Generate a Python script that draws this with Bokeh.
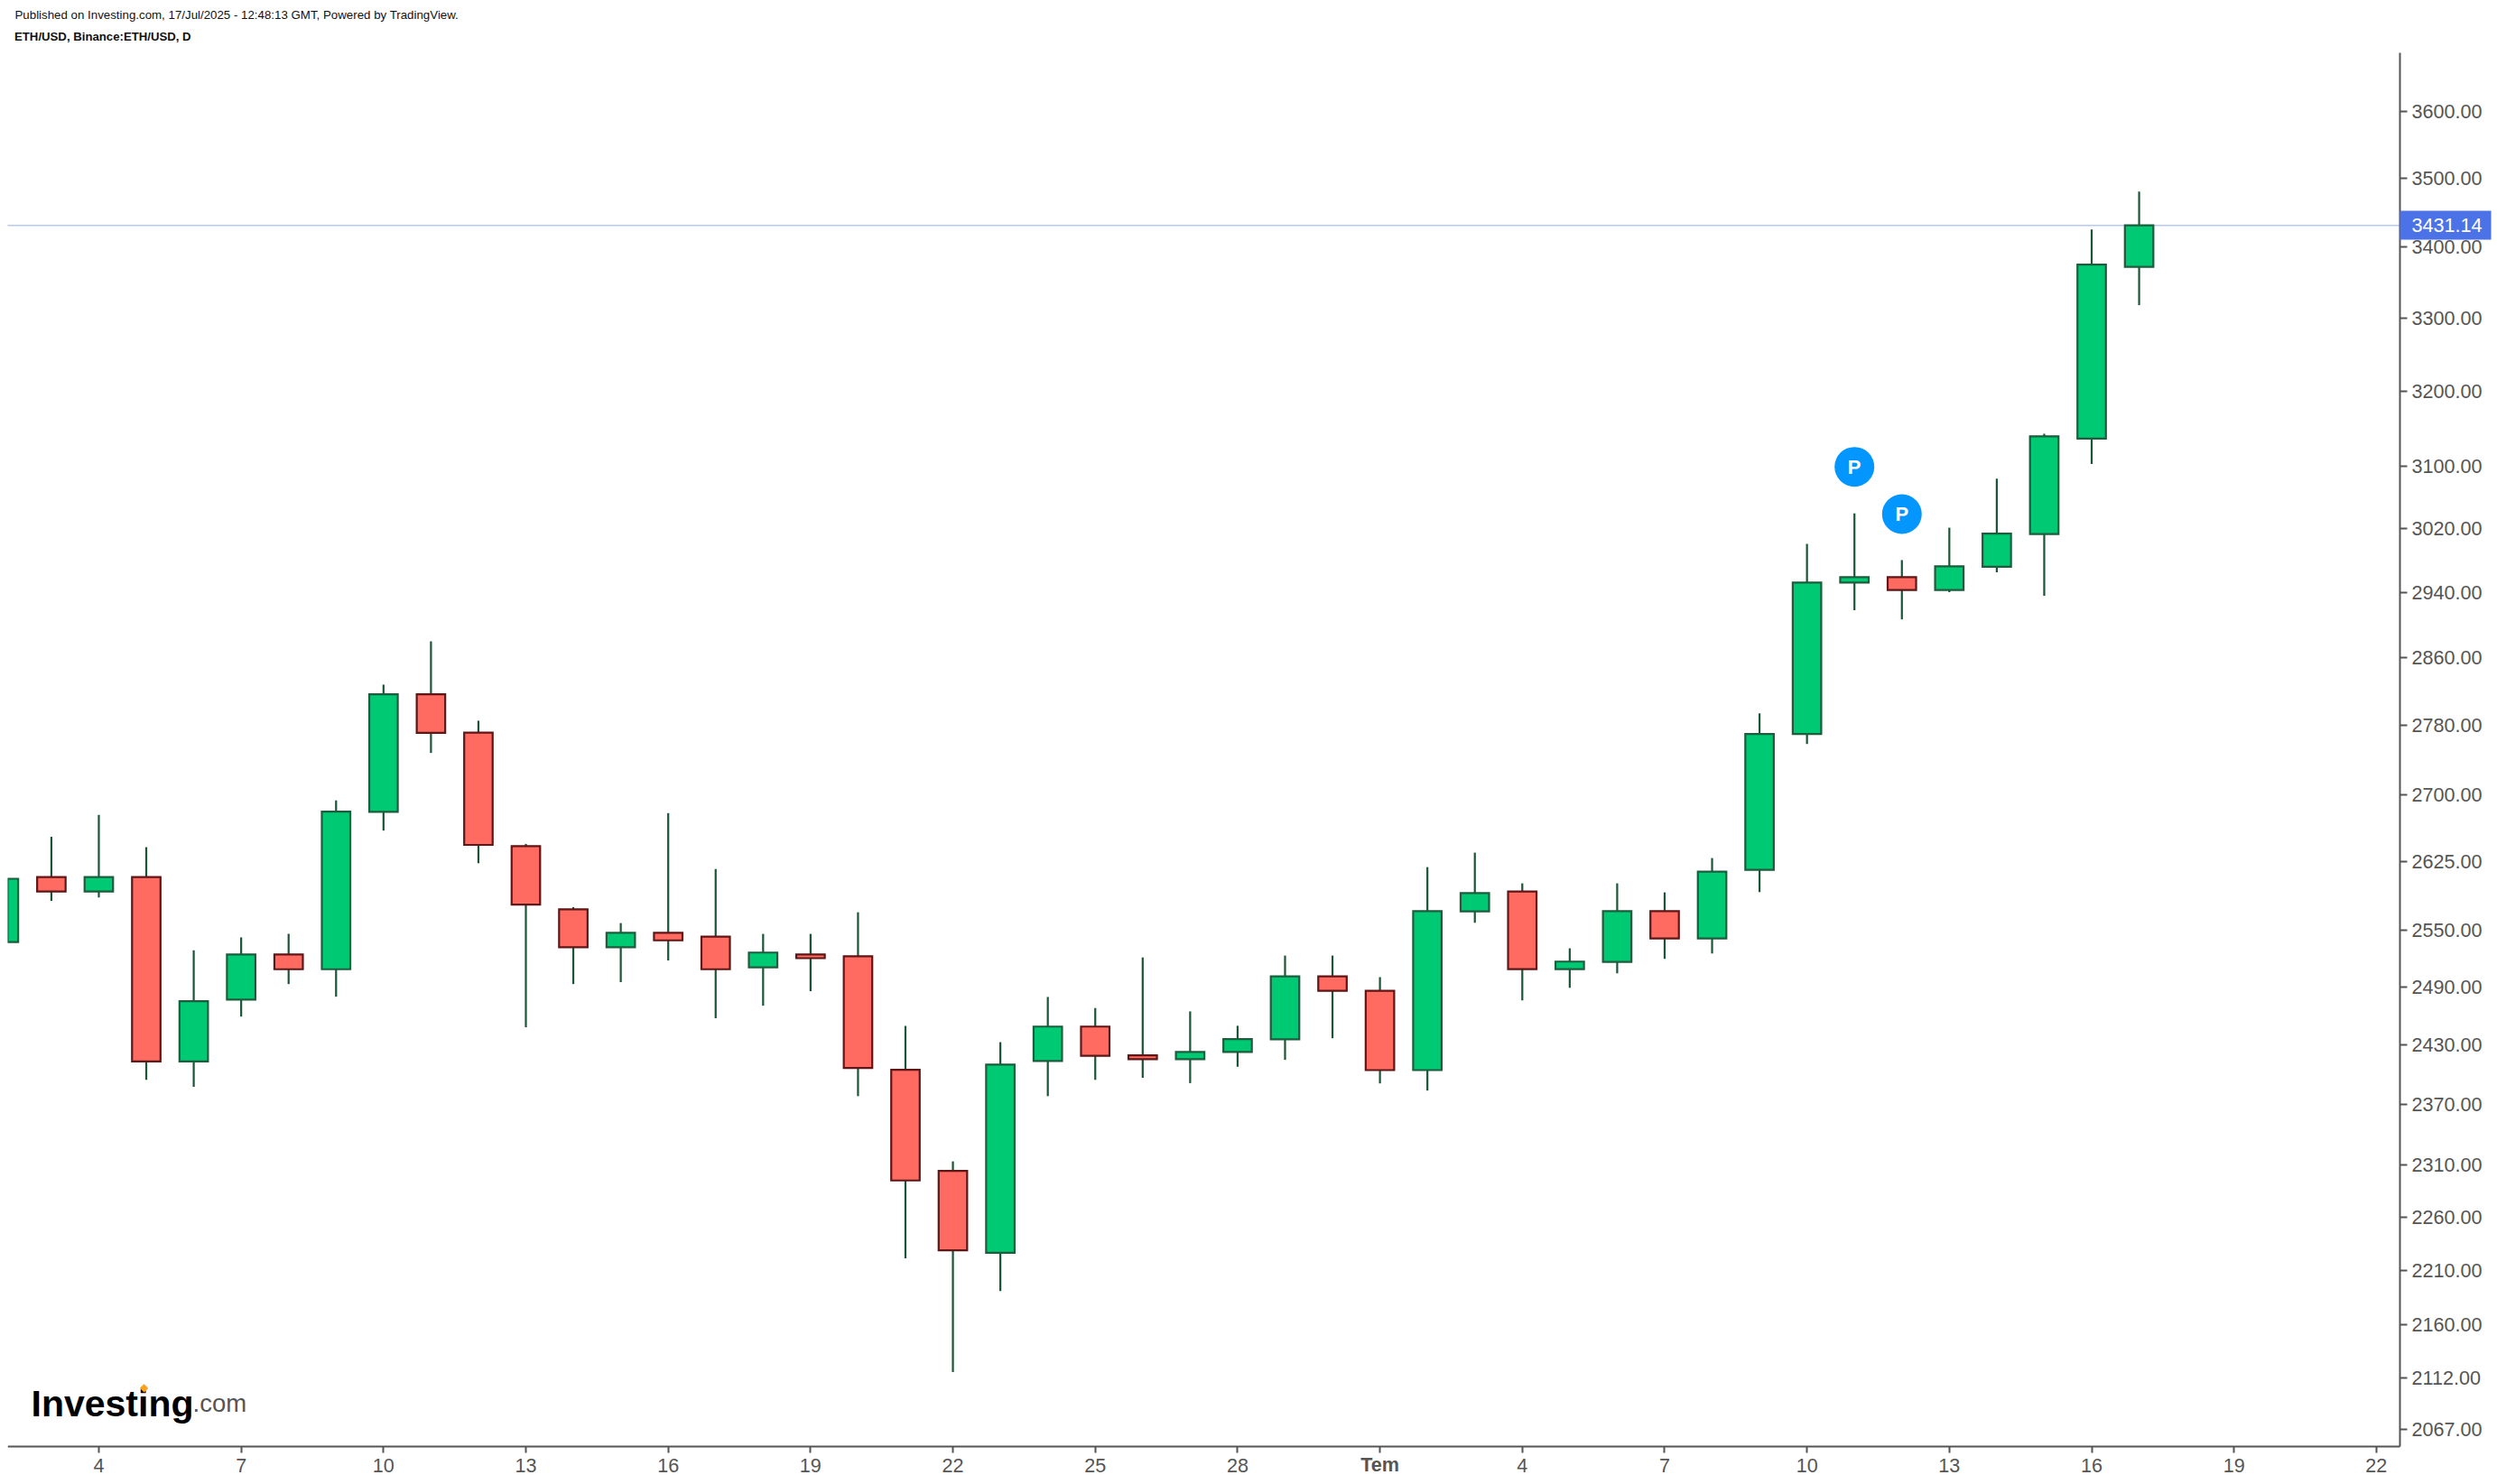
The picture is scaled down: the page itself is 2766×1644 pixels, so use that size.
import math
from bokeh.plotting import figure
from bokeh.models import Range1d, FixedTicker, Label, PrintfTickFormatter, ColumnDataSource, LinearAxis, LogAxis
from bokeh.core.properties import value
from bokeh.embed import file_html
from bokeh.resources import INLINE

# day index: June d -> d, July d -> 30 + d
days = list(range(2, 48))
opens = [2537.5, 2607.9, 2592.1, 2607.9, 2413.2, 2476.9, 2524.4, 2508.7, 2680.5, 2816.5, 2771.4, 2642.1, 2572.8, 2532.0,
         2547.5, 2543.4, 2510.7, 2524.4, 2522.4, 2404.7, 2304.5, 2226.5, 2413.6, 2448.9, 2419.4, 2415.5, 2422.8, 2435.7,
         2501.3, 2486.1, 2404.4, 2570.6, 2592.2, 2508.9, 2516.5, 2570.9, 2541.5, 2615.9, 2769.8, 2952.1, 2958.9, 2943.0,
         2971.9, 3013.1, 3136.7, 3371.7]
closes = [2606.1, 2592.1, 2607.9, 2413.2, 2475.2, 2524.4, 2508.7, 2680.8, 2816.5, 2771.1, 2643.5, 2578.0, 2532.0, 2547.4,
          2539.4, 2508.7, 2526.4, 2520.4, 2406.6, 2295.3, 2228.8, 2410.1, 2448.9, 2419.0, 2415.5, 2422.8, 2436.0, 2501.3,
          2486.1, 2404.4, 2570.9, 2590.5, 2508.9, 2516.8, 2570.9, 2541.5, 2614.0, 2769.8, 2952.1, 2958.9, 2943.0, 2972.4,
          3013.6, 3139.6, 3374.8, 3431.14]
highs = [2606.1, 2652.6, 2677.2, 2641.0, 2528.9, 2542.6, 2546.4, 2693.5, 2828.0, 2880.0, 2785.4, 2644.6, 2575.2, 2557.9,
         2679.1, 2616.8, 2546.3, 2546.3, 2569.6, 2449.7, 2313.8, 2432.9, 2479.6, 2468.1, 2521.2, 2464.6, 2449.7, 2523.2,
         2523.2, 2500.4, 2618.9, 2634.9, 2601.1, 2530.9, 2601.1, 2591.2, 2628.9, 2794.0, 3000.6, 3039.4, 2980.2, 3021.1,
         3084.1, 3143.0, 3425.0, 3480.2]
lows = [2537.5, 2581.9, 2585.7, 2394.6, 2387.5, 2459.2, 2493.1, 2479.9, 2659.5, 2747.8, 2623.2, 2448.2, 2493.1, 2495.1,
        2518.0, 2457.5, 2470.5, 2485.6, 2378.2, 2221.3, 2117.5, 2190.9, 2378.2, 2394.6, 2396.6, 2391.3, 2407.8, 2414.8,
        2436.9, 2391.0, 2383.8, 2558.3, 2476.0, 2489.2, 2504.4, 2519.7, 2525.4, 2591.5, 2758.2, 2918.0, 2906.7, 2940.2,
        2964.9, 2935.7, 3103.3, 3317.8]

y_ticks = [3600, 3500, 3400, 3300, 3200, 3100, 3020, 2940, 2860, 2780, 2700, 2625, 2550, 2490, 2430, 2370, 2310, 2260,
           2210, 2160, 2112, 2067]
x_ticks = [4, 7, 10, 13, 16, 19, 22, 25, 28, 31, 34, 37, 40, 43, 46, 49, 52]
x_labels = ["4", "7", "10", "13", "16", "19", "22", "25", "28", "", "4", "7", "10", "13", "16", "19", "22"]
month_label = "Tem"
month_tick = 31
last_price = 3431.14
pub_days = [41, 42]
pub_prices = [3099.5, 3038.5]

FONT = "Liberation Sans"
AX = "#555555"
# visible chart area in data units; the frame runs on to the page edge so tags and labels are not clipped
X0, X1, Y0, Y1 = 2.079, 52.497, 2052.1, 3689.6
W, H = 2760, 1640
LEFT, RIGHT, TOP, BOTTOM = 8, 102, 58, 38
sx = (X1 - X0) / (W - LEFT - RIGHT)
k = math.log(Y1 / Y0) / (H - TOP - BOTTOM)

p = figure(width=W, height=H, output_backend="svg", toolbar_location=None,
           x_range=Range1d(X0, X1 + RIGHT * sx),
           y_range=Range1d(Y0 * math.exp(-BOTTOM * k), Y1 * math.exp(TOP * k)),
           y_axis_type="log", y_axis_location="right",
           min_border_left=LEFT, min_border_right=0, min_border_top=0, min_border_bottom=0)
p.outline_line_color = None
p.grid.visible = False
p.background_fill_color = "white"
p.border_fill_color = "white"

xa = p.xaxis[0]
xa.fixed_location = Y0
xa.bounds = (X0, X1)
xa.ticker = FixedTicker(ticks=x_ticks)
xa.major_label_overrides = {k_: v for k_, v in zip(x_ticks, x_labels)}
xa.minor_tick_line_color = None
xa.major_tick_in = 0
xa.major_tick_out = 7
xa.major_tick_line_width = 2
xa.major_tick_line_color = AX
xa.axis_line_color = AX
xa.axis_line_width = 2
xa.major_label_text_font = FONT
xa.major_label_text_font_size = "21.6px"
xa.major_label_text_color = AX
xa.major_label_standoff = 6

ya = p.yaxis[0]
ya.fixed_location = X1
ya.bounds = (Y0, Y1)
ya.ticker = FixedTicker(ticks=y_ticks)
ya.formatter = PrintfTickFormatter(format="%.2f")
ya.minor_tick_line_color = None
ya.major_tick_in = 0
ya.major_tick_out = 8
ya.major_tick_line_width = 2
ya.major_tick_line_color = AX
ya.axis_line_color = AX
ya.axis_line_width = 2
ya.major_label_text_font = FONT
ya.major_label_text_font_size = "21.6px"
ya.major_label_text_color = AX
ya.major_label_standoff = 5

# bold month tick label on its own axis
tem = LinearAxis(ticker=FixedTicker(ticks=[month_tick]), major_label_overrides={month_tick: month_label},
                 fixed_location=Y0, axis_line_color=None, major_tick_line_color=None, minor_tick_line_color=None,
                 major_tick_in=0, major_tick_out=7, major_label_standoff=0, major_label_text_font=FONT,
                 major_label_text_font_size="21.6px", major_label_text_font_style="bold", major_label_text_color=AX)
p.add_layout(tem, "below")

# last price tag: its one tick is drawn as the blue box
tag = LogAxis(ticker=FixedTicker(ticks=[last_price]), formatter=PrintfTickFormatter(format="%.2f"),
              fixed_location=X1, axis_line_color=None, major_tick_line_color="#4C72E8", major_tick_line_width=32,
              minor_tick_line_color=None, major_tick_in=0, major_tick_out=101,
              major_label_standoff=-88, major_label_text_font=FONT, major_label_text_font_size="21.6px",
              major_label_text_color="white")
p.add_layout(tag, "right")

# last price line
p.line(x=[X0, X1], y=[last_price, last_price], line_color="#6f93f0", line_width=1.5, line_dash=[1, 1])

body_top = [max(o, c) for o, c in zip(opens, closes)]
body_bot = [min(o, c) for o, c in zip(opens, closes)]
up = [c >= o for o, c in zip(opens, closes)]
src = ColumnDataSource(dict(
    x=days, high=highs, low=lows, top=body_top, bottom=body_bot,
    fill=["#00C974" if u else "#FF6A61" for u in up],
    line=["#1D5C3C" if u else "#5F1616" for u in up],
))
p.segment(x0="x", x1="x", y0="low", y1="high", source=src, line_color="#1A5535", line_width=2.2)
p.vbar(x="x", width=0.6, top="top", bottom="bottom", source=src, fill_color="fill", line_color="line",
       line_width=2.2, line_join="miter")

# publication markers
p.scatter(x=pub_days, y=pub_prices, size=44, marker="circle", fill_color="#0496FF", line_color=None)
p.text(x=pub_days, y=pub_prices, text=["P", "P"], text_color="white", text_font=value(FONT), text_font_style="bold",
       text_font_size="22px", text_align="center", text_baseline="middle")

# header
p.add_layout(Label(x=8, y=H - 16, x_units="screen", y_units="screen",
                   text="Published on Investing.com, 17/Jul/2025 - 12:48:13 GMT, Powered by TradingView.",
                   text_font=FONT, text_font_size="13.3px", text_color="#111111", text_baseline="middle"))
p.add_layout(Label(x=7.5, y=H - 39.5, x_units="screen", y_units="screen",
                   text="ETH/USD, Binance:ETH/USD, D",
                   text_font=FONT, text_font_size="13.2px", text_font_style="bold", text_color="#111111",
                   text_baseline="middle"))

# logo
p.add_layout(Label(x=26, y=86, x_units="screen", y_units="screen", text="Investing", text_font=FONT,
                   text_font_size="41px", text_font_style="bold", text_color="#000000", text_baseline="alphabetic"))
p.add_layout(Label(x=205, y=86, x_units="screen", y_units="screen", text=".com", text_font=FONT,
                   text_font_size="27.5px", text_color="#555555", text_baseline="alphabetic"))
p.add_layout(Label(x=151, y=104, x_units="screen", y_units="screen", text="◆", text_font="DejaVu Sans",
                   text_font_size="12px", text_color="#F9A11B", text_align="center", text_baseline="middle"))

open("out.html", "w").write(file_html(p, INLINE))
